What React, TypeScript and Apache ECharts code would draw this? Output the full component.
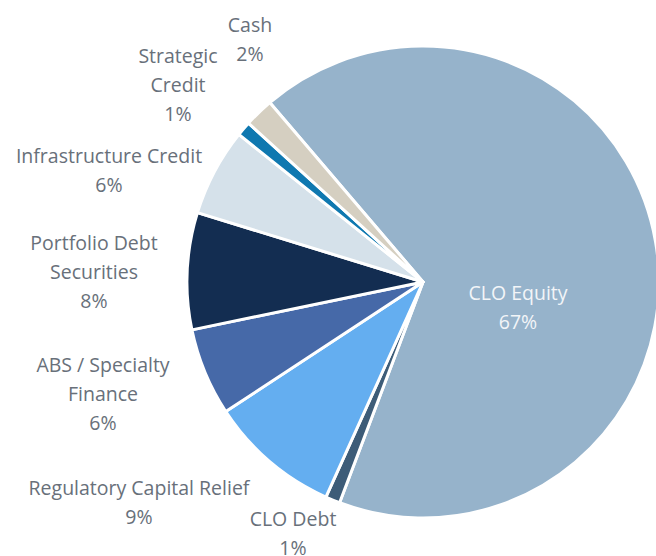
import React, { useEffect, useRef } from "react";
import * as echarts from "echarts";

const CATEGORIES = [
  "CLO Equity",
  "CLO Debt",
  "Regulatory Capital Relief",
  "ABS / Specialty\nFinance",
  "Portfolio Debt\nSecurities",
  "Infrastructure Credit",
  "Strategic\nCredit",
  "Cash",
];
const VALUES = [67, 1, 9, 6, 8, 6, 1, 2];
const COLORS = [
  "#96B3CB",
  "#3D5C78",
  "#64AEF0",
  "#4669A8",
  "#132D51",
  "#D5E1EA",
  "#0F78B0",
  "#D5CFC1",
];
// label block centres (layout only)
const LABEL_POS: [number, number][] = [
  [518, 307],
  [293, 533],
  [139, 502],
  [103, 393],
  [94, 271],
  [109, 170],
  [178, 84],
  [250, 39],
];

export default function App() {
  const ref = useRef<HTMLDivElement>(null);
  useEffect(() => {
    document.body.style.margin = "0";
    if (!ref.current) return;
    const chart = echarts.init(ref.current, undefined, { renderer: "svg" });
    chart.setOption({
      animation: false,
      backgroundColor: "#ffffff",
      series: [
        {
          type: "pie",
          center: [423, 282],
          radius: 236,
          startAngle: 130.5,
          clockwise: true,
          avoidLabelOverlap: false,
          itemStyle: { borderColor: "#ffffff", borderWidth: 3 },
          label: {
            show: true,
            position: "outside",
            formatter: "{b}\n{c}%",
            fontFamily: "Open Sans",
            fontSize: 19.5,
            lineHeight: 29,
            color: "#68707A",
          },
          labelLine: { show: false },
          labelLayout: (params: any) => {
            const p = LABEL_POS[params.dataIndex];
            return { x: p[0], y: p[1], align: "center", verticalAlign: "middle" };
          },
          data: CATEGORIES.map((name, i) => ({
            name,
            value: VALUES[i],
            itemStyle: { color: COLORS[i] },
            label: i === 0 ? { color: "#F2F5F8", position: "inside" } : undefined,
          })),
        },
      ],
    });
    return () => chart.dispose();
  }, []);
  return <div ref={ref} style={{ width: 656, height: 556 }} />;
}
